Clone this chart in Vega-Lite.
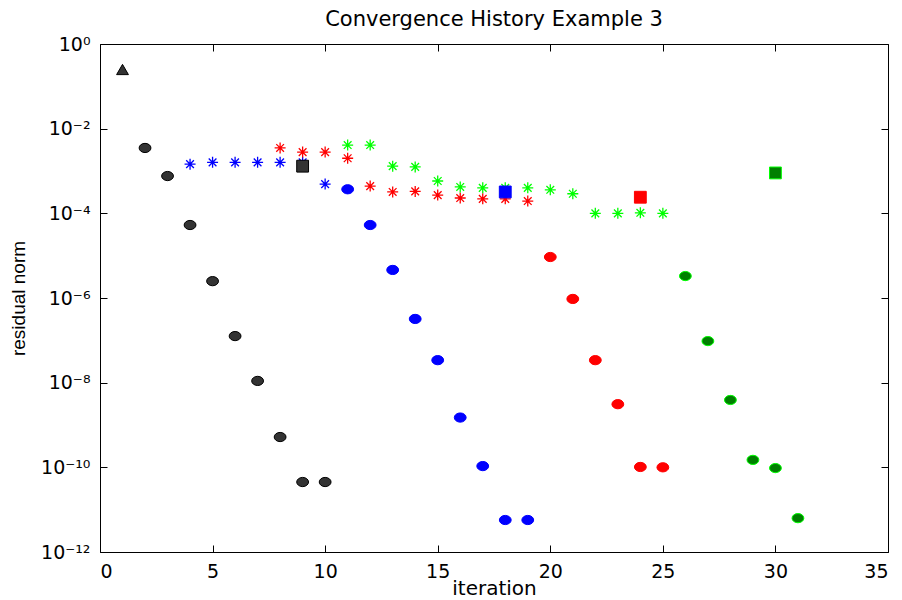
{
  "$schema": "https://vega.github.io/schema/vega-lite/v6.json",
  "autosize": {"type": "none"},
  "width": 788,
  "height": 508,
  "padding": {"left": 100, "top": 44, "right": 14, "bottom": 48},
  "background": "white",
  "title": {"text": "Convergence History Example 3", "fontSize": 21, "fontWeight": "normal", "font": "DejaVu Sans", "color": "black", "offset": 5},
  "config": {
    "view": {"stroke": "black", "strokeWidth": 1},
    "axis": {"domain": false, "grid": false, "labelFont": "DejaVu Sans", "titleFont": "DejaVu Sans", "labelFontSize": 19, "titleFontSize": 20, "titleFontWeight": "normal", "labelColor": "black", "titleColor": "black", "tickColor": "black", "tickSize": -7, "tickWidth": 1}
  },
  "data": {"values": [
    {"i": 1, "r": 0.25, "s": "k", "m": "tri"},
    {"i": 2, "r": 3.5e-3, "s": "k", "m": "circle"},
    {"i": 3, "r": 7.6e-4, "s": "k", "m": "circle"},
    {"i": 4, "r": 5.3e-5, "s": "k", "m": "circle"},
    {"i": 5, "r": 2.5e-6, "s": "k", "m": "circle"},
    {"i": 6, "r": 1.26e-7, "s": "k", "m": "circle"},
    {"i": 7, "r": 1.1e-8, "s": "k", "m": "circle"},
    {"i": 8, "r": 5.2e-10, "s": "k", "m": "circle"},
    {"i": 9, "r": 4.5e-11, "s": "k", "m": "circle"},
    {"i": 10, "r": 4.5e-11, "s": "k", "m": "circle"},
    {"i": 9, "r": 1.3e-3, "s": "k", "m": "square"},
    {"i": 4, "r": 1.45e-3, "s": "b", "m": "star"},
    {"i": 5, "r": 1.6e-3, "s": "b", "m": "star"},
    {"i": 6, "r": 1.6e-3, "s": "b", "m": "star"},
    {"i": 7, "r": 1.6e-3, "s": "b", "m": "star"},
    {"i": 8, "r": 1.6e-3, "s": "b", "m": "star"},
    {"i": 9, "r": 1.6e-3, "s": "b", "m": "star"},
    {"i": 10, "r": 4.9e-4, "s": "b", "m": "star"},
    {"i": 11, "r": 3.7e-4, "s": "b", "m": "circle"},
    {"i": 12, "r": 5.3e-5, "s": "b", "m": "circle"},
    {"i": 13, "r": 4.6e-6, "s": "b", "m": "circle"},
    {"i": 14, "r": 3.2e-7, "s": "b", "m": "circle"},
    {"i": 15, "r": 3.4e-8, "s": "b", "m": "circle"},
    {"i": 16, "r": 1.5e-9, "s": "b", "m": "circle"},
    {"i": 17, "r": 1.07e-10, "s": "b", "m": "circle"},
    {"i": 18, "r": 5.7e-12, "s": "b", "m": "circle"},
    {"i": 19, "r": 5.7e-12, "s": "b", "m": "circle"},
    {"i": 18, "r": 3.2e-4, "s": "b", "m": "square"},
    {"i": 8, "r": 3.5e-3, "s": "r", "m": "star"},
    {"i": 9, "r": 2.8e-3, "s": "r", "m": "star"},
    {"i": 10, "r": 2.8e-3, "s": "r", "m": "star"},
    {"i": 11, "r": 2.0e-3, "s": "r", "m": "star"},
    {"i": 12, "r": 4.4e-4, "s": "r", "m": "star"},
    {"i": 13, "r": 3.2e-4, "s": "r", "m": "star"},
    {"i": 14, "r": 3.3e-4, "s": "r", "m": "star"},
    {"i": 15, "r": 2.7e-4, "s": "r", "m": "star"},
    {"i": 16, "r": 2.3e-4, "s": "r", "m": "star"},
    {"i": 17, "r": 2.2e-4, "s": "r", "m": "star"},
    {"i": 18, "r": 2.2e-4, "s": "r", "m": "star"},
    {"i": 19, "r": 1.95e-4, "s": "r", "m": "star"},
    {"i": 20, "r": 9.3e-6, "s": "r", "m": "circle"},
    {"i": 21, "r": 9.5e-7, "s": "r", "m": "circle"},
    {"i": 22, "r": 3.4e-8, "s": "r", "m": "circle"},
    {"i": 23, "r": 3.1e-9, "s": "r", "m": "circle"},
    {"i": 24, "r": 1.02e-10, "s": "r", "m": "circle"},
    {"i": 25, "r": 1.0e-10, "s": "r", "m": "circle"},
    {"i": 24, "r": 2.4e-4, "s": "r", "m": "square"},
    {"i": 11, "r": 4.1e-3, "s": "g", "m": "star"},
    {"i": 12, "r": 4.1e-3, "s": "g", "m": "star"},
    {"i": 13, "r": 1.3e-3, "s": "g", "m": "star"},
    {"i": 14, "r": 1.25e-3, "s": "g", "m": "star"},
    {"i": 15, "r": 5.8e-4, "s": "g", "m": "star"},
    {"i": 16, "r": 4.2e-4, "s": "g", "m": "star"},
    {"i": 17, "r": 4.0e-4, "s": "g", "m": "star"},
    {"i": 18, "r": 4.0e-4, "s": "g", "m": "star"},
    {"i": 19, "r": 4.0e-4, "s": "g", "m": "star"},
    {"i": 20, "r": 3.6e-4, "s": "g", "m": "star"},
    {"i": 21, "r": 2.9e-4, "s": "g", "m": "star"},
    {"i": 22, "r": 1.0e-4, "s": "g", "m": "star"},
    {"i": 23, "r": 1.0e-4, "s": "g", "m": "star"},
    {"i": 24, "r": 1.03e-4, "s": "g", "m": "star"},
    {"i": 25, "r": 1.0e-4, "s": "g", "m": "star"},
    {"i": 26, "r": 3.3e-6, "s": "g", "m": "circle"},
    {"i": 27, "r": 9.6e-8, "s": "g", "m": "circle"},
    {"i": 28, "r": 3.9e-9, "s": "g", "m": "circle"},
    {"i": 29, "r": 1.5e-10, "s": "g", "m": "circle"},
    {"i": 30, "r": 9.6e-11, "s": "g", "m": "circle"},
    {"i": 31, "r": 6.3e-12, "s": "g", "m": "circle"},
    {"i": 30, "r": 9.0e-4, "s": "g", "m": "square"}
  ]},
  "layer": [
    {
      "transform": [{"filter": "datum.m === 'star'"}],
      "mark": {"type": "point", "shape": "M-1,0L1,0M0,-1L0,1M-0.7,-0.7L0.7,0.7M-0.7,0.7L0.7,-0.7", "filled": false, "size": 121, "strokeWidth": 1.3, "opacity": 1},
      "encoding": {
        "x": {"field": "i", "type": "quantitative", "scale": {"domain": [0, 35], "nice": false, "zero": false}, "axis": {"orient": "bottom", "values": [0, 5, 10, 15, 20, 25, 30, 35], "title": "iteration", "labelPadding": 17, "titlePadding": -3}},
        "y": {"field": "r", "type": "quantitative", "scale": {"type": "log", "domain": [1e-12, 1], "nice": false}, "axis": {"orient": "left", "values": [1e-12, 1e-10, 1e-8, 1e-6, 1e-4, 1e-2, 1], "title": "residual norm", "titleFont": "Liberation Sans", "titleFontSize": 19, "titlePadding": 12, "labelPadding": 17, "labelExpr": "datum.value > 0.5 ? '10⁰' : datum.value > 5e-3 ? '10⁻²' : datum.value > 5e-5 ? '10⁻⁴' : datum.value > 5e-7 ? '10⁻⁶' : datum.value > 5e-9 ? '10⁻⁸' : datum.value > 5e-11 ? '10⁻¹⁰' : '10⁻¹²'"}},
        "stroke": {"field": "s", "type": "nominal", "scale": {"domain": ["k", "b", "r", "g"], "range": ["#000000", "#0000ff", "#ff0000", "#00ff00"]}, "legend": null}
      }
    },
    {
      "mark": {"type": "point", "opacity": 0},
      "encoding": {
        "x": {"field": "i", "type": "quantitative", "axis": {"orient": "top", "values": [0, 5, 10, 15, 20, 25, 30, 35], "labels": false, "title": null}},
        "y": {"field": "r", "type": "quantitative", "axis": {"orient": "right", "values": [1e-12, 1e-10, 1e-8, 1e-6, 1e-4, 1e-2, 1], "labels": false, "title": null}}
      }
    },
    {
      "transform": [{"filter": "datum.m !== 'star'"}],
      "mark": {"type": "point", "filled": true, "size": 140, "strokeWidth": 1, "opacity": 1},
      "encoding": {
        "x": {"field": "i", "type": "quantitative", "axis": null},
        "y": {"field": "r", "type": "quantitative", "axis": null},
        "shape": {"field": "m", "type": "nominal", "scale": {"domain": ["circle", "square", "tri"], "range": ["M-1,0A1,0.78,0,1,0,1,0A1,0.78,0,1,0,-1,0Z", "square", "triangle-up"]}, "legend": null},
        "fill": {"field": "s", "type": "nominal", "scale": {"domain": ["k", "b", "r", "g"], "range": ["#333333", "#0000ff", "#ff0000", "#008000"]}, "legend": null},
        "stroke": {"field": "s", "type": "nominal", "legend": null}
      }
    }
  ],
  "resolve": {"axis": {"x": "independent", "y": "independent"}}
}
